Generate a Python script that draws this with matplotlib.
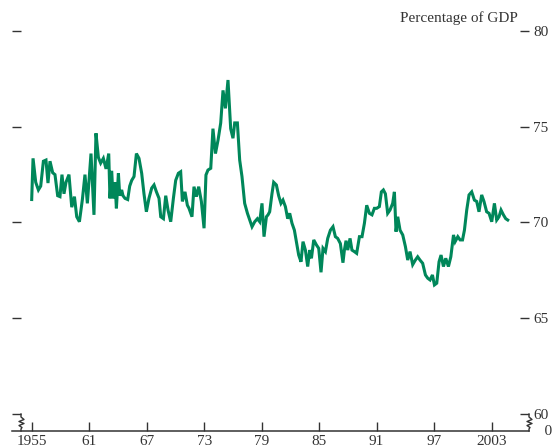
import matplotlib
matplotlib.use("Agg")
import matplotlib.pyplot as plt
from matplotlib.lines import Line2D

# ---- data ----
years = [
    1955.00, 1955.14, 1955.42, 1955.70, 1955.94, 1956.22, 1956.49, 1956.70, 1956.91, 1957.19,
    1957.43, 1957.71, 1957.95, 1958.16, 1958.37, 1958.58, 1958.89, 1959.18, 1959.46, 1959.70,
    1959.98, 1960.29, 1960.56, 1960.81, 1961.19, 1961.50, 1961.71, 1961.96, 1962.20, 1962.48,
    1962.76, 1963.04, 1963.17, 1963.35, 1963.49, 1963.70, 1963.84, 1964.05, 1964.19, 1964.39,
    1964.53, 1964.74, 1965.02, 1965.23, 1965.44, 1965.68, 1965.93, 1966.20, 1966.48, 1966.72,
    1966.97, 1967.24, 1967.53, 1967.77, 1968.02, 1968.29, 1968.47, 1968.75, 1968.99, 1969.23,
    1969.51, 1969.79, 1970.03, 1970.31, 1970.55, 1970.73, 1971.00, 1971.25, 1971.42, 1971.73,
    1971.94, 1972.19, 1972.43, 1972.71, 1972.99, 1973.19, 1973.40, 1973.69, 1973.92, 1974.18,
    1974.45, 1974.73, 1974.97, 1975.22, 1975.49, 1975.77, 1976.01, 1976.19, 1976.47, 1976.71,
    1976.95, 1977.23, 1977.52, 1977.76, 1978.00, 1978.28, 1978.56, 1978.80, 1979.04, 1979.25,
    1979.50, 1979.67, 1979.84, 1980.08, 1980.26, 1980.54, 1980.78, 1981.02, 1981.23, 1981.48,
    1981.72, 1981.93, 1982.17, 1982.42, 1982.63, 1982.87, 1983.11, 1983.32, 1983.57, 1983.81,
    1984.02, 1984.20, 1984.44, 1984.72, 1984.96, 1985.20, 1985.41, 1985.66, 1985.90, 1986.18,
    1986.45, 1986.70, 1986.94, 1987.22, 1987.49, 1987.64, 1987.81, 1987.99, 1988.23, 1988.43,
    1988.68, 1988.92, 1989.21, 1989.48, 1989.73, 1989.97, 1990.25, 1990.52, 1990.77, 1991.01,
    1991.29, 1991.50, 1991.71, 1991.92, 1992.16, 1992.40, 1992.68, 1992.86, 1993.03, 1993.21,
    1993.45, 1993.73, 1994.01, 1994.25, 1994.49, 1994.77, 1995.05, 1995.29, 1995.53, 1995.81,
    1996.10, 1996.34, 1996.58, 1996.83, 1997.04, 1997.28, 1997.52, 1997.73, 1997.98, 1998.22,
    1998.50, 1998.75, 1999.03, 1999.20, 1999.48, 1999.72, 1999.97, 2000.17, 2000.41, 2000.65,
    2000.93, 2001.21, 2001.45, 2001.69, 2001.97, 2002.21, 2002.49, 2002.74, 2003.02, 2003.30,
    2003.54, 2003.78, 2003.99, 2004.24, 2004.48, 2004.69,
]
pct_gdp = [
    71.2, 73.35, 72.1, 71.7, 71.9, 73.2, 73.26, 72.06, 73.2, 72.6,
    72.5, 71.4, 71.35, 72.5, 71.5, 72.1, 72.5, 70.8, 71.35, 70.3,
    70.04, 71.2, 72.5, 71.0, 73.6, 70.4, 74.66, 73.4, 73.1, 73.35,
    72.8, 73.6, 71.26, 72.7, 71.26, 72.1, 70.74, 72.57, 71.4, 71.7,
    71.4, 71.26, 71.2, 71.9, 72.2, 72.4, 73.6, 73.35, 72.57, 71.5,
    70.56, 71.26, 71.8, 71.96, 71.6, 71.26, 70.3, 70.2, 71.4, 70.65,
    70.04, 71.26, 72.2, 72.57, 72.65, 71.1, 71.6, 70.9, 70.74, 70.3,
    71.87, 71.35, 71.87, 71.1, 69.7, 72.48, 72.74, 72.83, 74.9, 73.6,
    74.3, 75.2, 76.9, 75.96, 77.44, 74.9, 74.4, 75.2, 75.2, 73.26,
    72.4, 71.0, 70.48, 70.13, 69.78, 70.04, 70.2, 70.04, 71.0, 69.26,
    70.3, 70.4, 70.56, 71.5, 72.1, 71.96, 71.4, 71.0, 71.17, 70.83,
    70.2, 70.48, 69.96, 69.6, 69.0, 68.3, 67.95, 69.0, 68.56, 67.7,
    68.56, 68.13, 69.09, 68.83, 68.65, 67.4, 68.65, 68.48, 69.17, 69.6,
    69.78, 69.26, 69.17, 68.9, 67.9, 68.56, 69.05, 68.56, 69.17, 68.56,
    68.48, 68.39, 69.26, 69.26, 69.96, 70.9, 70.48, 70.4, 70.74, 70.74,
    70.83, 71.6, 71.7, 71.5, 70.48, 70.65, 71.0, 71.6, 69.52, 70.3,
    69.6, 69.35, 68.74, 68.04, 68.48, 67.8, 68.04, 68.21, 68.04, 67.87,
    67.26, 67.09, 67.0, 67.26, 66.74, 66.83, 67.95, 68.3, 67.7, 68.13,
    67.7, 68.21, 69.35, 69.0, 69.26, 69.09, 69.09, 69.6, 70.65, 71.44,
    71.6, 71.17, 71.1, 70.56, 71.44, 71.1, 70.56, 70.48, 70.04, 71.0,
    70.13, 70.3, 70.65, 70.4, 70.2, 70.13,
]
x_ticks = [1955, 1961, 1967, 1973, 1979, 1985, 1991, 1997, 2003]
x_tick_labels = ["1955", "61", "67", "73", "79", "85", "91", "97", "2003"]
y_ticks = [60, 65, 70, 75, 80]
y_tick_labels = ["60", "65", "70", "75", "80"]
unit_label = "Percentage of GDP"

# ---- style ----
W, H = 555, 448
LINE_COLOR = "#00875a"
TEXT_COLOR = "#333333"
plt.rcParams["font.family"] = ["Liberation Serif", "DejaVu Serif"]
FS = 11

fig = plt.figure(figsize=(W / 100, H / 100), dpi=100)
left_px, right_px, top_px, bottom_px = 12, 529, 31, 431
ax = fig.add_axes([left_px / W, 1 - bottom_px / H,
                   (right_px - left_px) / W, (bottom_px - top_px) / H])

ax.plot(years, pct_gdp, color=LINE_COLOR, lw=2.2, solid_joinstyle="miter")

ax.set_xlim(1955 + (left_px - 31.7) / 9.58, 1955 + (right_px - 31.7) / 9.58)
ax.set_ylim(60 - (bottom_px - 414) / 19.15, 80)

for s in ["top", "left", "right"]:
    ax.spines[s].set_visible(False)
ax.spines["bottom"].set_color(TEXT_COLOR)
ax.spines["bottom"].set_linewidth(1.1)

ax.set_xticks(x_ticks)
ax.set_xticklabels(x_tick_labels)
ax.tick_params(axis="x", direction="in", length=6.5, width=1.0, color=TEXT_COLOR,
               labelsize=FS, labelcolor=TEXT_COLOR, pad=3)

ax.set_yticks(y_ticks)
ax.set_yticklabels(y_tick_labels)
ax.tick_params(axis="y", which="both", direction="in", length=6.5, width=1.0,
               color=TEXT_COLOR, left=True, right=True, labelleft=False,
               labelright=True, labelsize=FS, labelcolor=TEXT_COLOR, pad=3)

# axis-break zigzags
def fpx(x, y):
    return (x / W, 1 - y / H)

def zig(x0, sign):
    pts = [(x0, 414), (x0, 417), (x0 + 3 * sign, 419.5), (x0 - 2 * sign, 421.5),
           (x0 + 3 * sign, 423.5), (x0 - 2 * sign, 425.5), (x0 + 1 * sign, 427.5),
           (x0, 429), (x0, 431)]
    xs = [fpx(*p)[0] for p in pts]
    ys = [fpx(*p)[1] for p in pts]
    fig.add_artist(Line2D(xs, ys, color=TEXT_COLOR, lw=1.0, transform=fig.transFigure))

zig(21, 1)
zig(529, 1)

ax.text(1.0, 59.11, "    0", transform=ax.get_yaxis_transform(), ha="left", va="center",
        fontsize=FS, color=TEXT_COLOR)
fig.text(518 / W, 1 - 18 / H, unit_label, ha="right", va="center",
         fontsize=FS, color=TEXT_COLOR)

fig.savefig("out.png", dpi=100)
